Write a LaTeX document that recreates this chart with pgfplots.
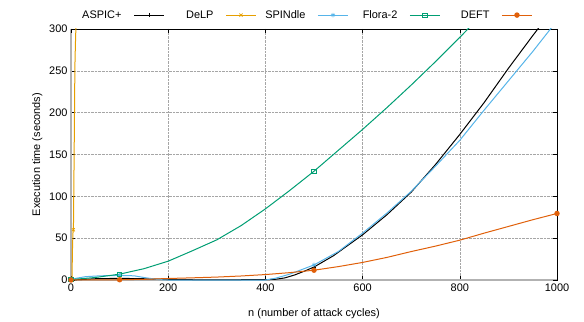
\documentclass[border=0pt]{standalone}
\usepackage{pgfplots}
\pgfplotsset{compat=1.18}
\usepackage{fontspec}
\setmainfont{Liberation Sans}
\definecolor{cAspic}{HTML}{000000}
\definecolor{cDelp}{HTML}{E69F00}
\definecolor{cSpin}{HTML}{56B4E9}
\definecolor{cFlora}{HTML}{009E73}
\definecolor{cDeft}{HTML}{E0600A}
\newcommand{\lbox}[1]{\makebox[44bp][r]{#1}}
\begin{document}
\begin{tikzpicture}
\useasboundingbox (-71bp,-42bp) rectangle (513bp,280bp);
\begin{axis}[
  at={(0,0)}, anchor=south west,
  scale only axis, width=486bp, height=251bp,
  xmin=0, xmax=1000, ymin=0, ymax=300,
  xtick={0,200,400,600,800,1000},
  ytick={0,50,100,150,200,250,300},
  /pgf/number format/1000 sep={},
  tick pos=both, tick align=inside,
  major tick length=4bp,
  every tick/.style={black, line width=0.6bp},
  axis line style={black, line width=0.8bp},
  grid=major,
  major grid style={densely dotted, gray!70, line width=0.6bp},
  extra x ticks={0}, extra x tick labels={},
  extra x tick style={grid=major, major grid style={gray!60, line width=1.6bp, solid}},
  extra y ticks={0}, extra y tick labels={},
  extra y tick style={grid=major, major grid style={gray!60, line width=1.6bp, solid}},
  font=\fontsize{11}{13}\selectfont,
  /pgf/number format/assume math mode=true,
  xlabel={n (number of attack cycles)},
  ylabel={Execution time (seconds)},
  xlabel style={at={(axis description cs:0.5,0)}, anchor=center, yshift=-34bp},
  ylabel shift=0bp,
  legend columns=5,
  legend plot pos=right,
  legend cell align=right,
  legend style={at={(0.5,1)}, anchor=south, xshift=-10bp, yshift=7bp, draw=none, fill=none,
    inner sep=0pt,
    font=\fontsize{11}{13}\selectfont,
    /tikz/every odd column/.append style={column sep=4bp},
    /tikz/every even column/.append style={column sep=3bp}},
  legend image code/.code={\path (0bp,0bp); \draw[mark indices={2}] plot coordinates {(6bp,0bp) (21bp,0bp) (36bp,0bp)};},
  every axis plot/.append style={line width=1bp, mark size=2.2bp},
  clip=true,
]
\addplot[cAspic, mark=+, mark indices={1,4,16}, mark options={solid, line width=0.7bp}] coordinates {
(0,0) (20,0.5) (50,1.5) (100,2) (150,1.5) (180,1) (200,0.5) (250,0.3) (300,0.3) (350,0.3) (400,0.4) (420,0.8) (440,2.5) (460,6) (480,10.5) (500,15.5) (540,29) (600,54) (650,78) (700,105) (750,138) (800,174) (850,212) (900,253) (950,292) (1000,330)
};
\addlegendentry{\lbox{ASPIC+}}
\addplot[cDelp, mark=x, mark indices={1,5}, mark options={solid, line width=0.7bp}] coordinates {
(0,0) (2,1) (3,36) (4,56) (5,60) (6,120) (7,185) (8,255) (9,280) (10,300) (11,350)
};
\addlegendentry{\lbox{DeLP}}
\addplot[cSpin, mark=asterisk, mark indices={1,5,14}, mark options={solid, line width=0.7bp}] coordinates {
(0,0) (10,2) (30,4) (60,5) (100,5.5) (130,5) (150,3) (180,0.5) (200,0) (300,0) (400,0) (420,2) (450,7) (500,18) (550,34) (600,56) (650,80) (700,106) (750,136) (800,167) (850,203) (900,238) (950,273) (1000,310)
};
\addlegendentry{\lbox{SPINdle}}
\addplot[cFlora, mark=square, mark indices={1,3,11}, mark options={solid, line width=0.7bp}] coordinates {
(0,0.5) (50,3) (100,7) (150,13.5) (200,22.5) (250,35) (300,48) (350,65) (400,85) (450,107) (500,130) (550,155) (600,180) (650,206) (700,233) (750,261) (800,290) (850,320)
};
\addlegendentry{\lbox{Flora-2}}
\addplot[cDeft, mark=*, mark indices={1,3,11,21}, mark options={solid}] coordinates {
(0,0) (50,0.2) (100,0.3) (150,0.8) (200,1.8) (250,2.6) (300,3.5) (350,4.8) (400,6.5) (450,8.8) (500,11.7) (550,16) (600,21) (650,27) (700,34) (750,40.5) (800,47.6) (850,56) (900,64) (950,72) (1000,79.5)
};
\addlegendentry{\lbox{DEFT}}
\end{axis}
\end{tikzpicture}
\end{document}
